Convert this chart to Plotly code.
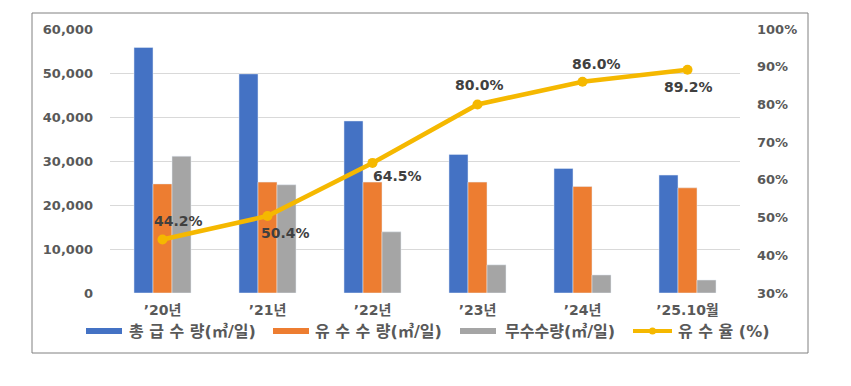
import plotly.graph_objects as go

categories = ["’20년", "’21년", "’22년", "’23년", "’24년", "’25.10월"]
supply = [55800, 49800, 39100, 31500, 28300, 26800]
revenue = [24800, 25200, 25200, 25200, 24200, 23900]
nonrevenue = [31100, 24600, 13900, 6400, 4100, 2950]
rate = [0.442, 0.504, 0.645, 0.800, 0.860, 0.892]
rate_labels = ["44.2%", "50.4%", "64.5%", "80.0%", "86.0%", "89.2%"]

names = ["총 급 수 량(㎥/일)", "유 수 수 량(㎥/일)", "무수수량(㎥/일)", "유 수 율 (%)"]
colors = ["#4472C4", "#ED7D31", "#A5A5A5", "#F5B800"]

label_shift = [(16, 18), (18, -17), (25, -13), (2, 19), (14, 18), (1, -17)]

FONT = "DejaVu Sans, Noto Sans CJK KR"

# page offset (body margin) and plot area in screen pixels
OX, OY = 8, 7
L, R, T, B = 110, 740, 28, 292
W, H = R - L, B - T


def px(x):
    return (x - L) / W


def py(y):
    return (B - y) / H


fig = go.Figure()
for vals, nm, col in zip([supply, revenue, nonrevenue], names[:3], colors[:3]):
    fig.add_trace(go.Bar(x=categories, y=vals, name=nm, marker_color=col,
                         showlegend=False, yaxis="y"))

fig.add_trace(go.Scatter(x=categories, y=rate, name=names[3], mode="lines+markers",
                         line=dict(color=colors[3], width=4.5), showlegend=False,
                         marker=dict(size=10, color=colors[3]), yaxis="y2"))

for c, r, t, (dx, dy) in zip(categories, rate, rate_labels, label_shift):
    fig.add_annotation(x=c, y=r, yref="y2", text=t, showarrow=False,
                       xshift=dx, yshift=dy,
                       font=dict(family=FONT, size=14, color="#404040", weight="bold"))

shapes = [dict(type="rect", xref="paper", yref="paper",
               x0=px(32), x1=px(808), y0=py(352), y1=py(12),
               line=dict(color="#808080", width=1), fillcolor="rgba(0,0,0,0)",
               layer="below")]

# legend (drawn manually)
leg_y = 330
sym_x = [86, 273, 460]
txt_x = [127, 313, 503, 676]
for i in range(3):
    shapes.append(dict(type="rect", xref="paper", yref="paper",
                       x0=px(sym_x[i]), x1=px(sym_x[i] + 36),
                       y0=py(leg_y + 3), y1=py(leg_y - 3),
                       line=dict(width=0), fillcolor=colors[i]))
shapes.append(dict(type="line", xref="paper", yref="paper",
                   x0=px(633), x1=px(672), y0=py(leg_y), y1=py(leg_y),
                   line=dict(color=colors[3], width=4)))
shapes.append(dict(type="circle", xref="paper", yref="paper",
                   x0=px(649), x1=px(656), y0=py(leg_y + 3.5), y1=py(leg_y - 3.5),
                   line=dict(width=0), fillcolor=colors[3]))
for nm, tx in zip(names, txt_x):
    fig.add_annotation(xref="paper", yref="paper", x=px(tx), y=py(leg_y),
                       xanchor="left", yanchor="middle", text=nm, showarrow=False,
                       font=dict(family=FONT, size=16, color="#595959", weight="bold"))

fig.update_layout(
    width=851, height=386,
    margin=dict(l=L - OX, r=851 - (R - OX), t=T - OY, b=386 - (B - OY)),
    paper_bgcolor="white", plot_bgcolor="white",
    barmode="group", bargap=0.457, bargroupgap=0,
    showlegend=False,
    font=dict(family=FONT, size=13, color="#595959", weight="bold"),
    xaxis=dict(showgrid=False, showline=False, ticks="", zeroline=False,
               tickfont=dict(size=14, color="#595959"), ticklabelstandoff=7),
    yaxis=dict(range=[0, 60000], dtick=10000, tickformat=",", showgrid=True,
               gridcolor="#D9D9D9", gridwidth=1, zeroline=False, showline=False,
               ticks="", ticklabelstandoff=16),
    yaxis2=dict(range=[0.3, 1.0], dtick=0.1, tickformat=".0%", overlaying="y",
                side="right", showgrid=False, zeroline=False, showline=False,
                ticks="", ticklabelstandoff=16),
    shapes=shapes,
)

fig.write_html("out.html")
